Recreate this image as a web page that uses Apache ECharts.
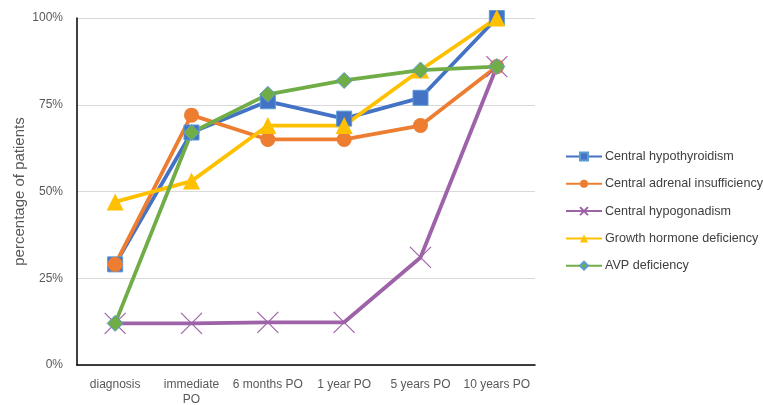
<!DOCTYPE html>
<html>
<head>
<meta charset="utf-8">
<script src="https://cdn.jsdelivr.net/npm/echarts@6/dist/echarts.min.js"></script>
<style>
  html, body { margin: 0; padding: 0; background: #fff; }
  #chart { width: 763px; height: 405px; }
</style>
</head>
<body>
<div id="chart"></div>
<script>
// Time points after surgery
const categories = ['diagnosis', 'immediate\nPO', '6 months PO', '1 year PO', '5 years PO', '10 years PO'];

// Percentage of patients with each deficiency
const hypothyroidism = [29, 67, 76, 71, 77, 100];
const adrenal = [29, 72, 65, 65, 69, 86];
const hypogonadism = [12, 12, 12.3, 12.3, 31, 86];
const growthHormone = [47, 53, 69, 69, 85, 100];
const avp = [12, 67, 78, 82, 85, 86];

const yTicks = [0, 25, 50, 75, 100];

const crossPath = 'path://M0,0L10,10M10,0L0,10';

function lineSeries(name, data, color, symbol, size, extraItem) {
  return {
    name: name,
    type: 'line',
    data: data,
    symbol: symbol,
    symbolSize: size,
    lineStyle: { color: color, width: 3.8 },
    itemStyle: Object.assign({ color: color }, extraItem || {}),
    emphasis: { disabled: true },
    animation: false
  };
}

const chart = echarts.init(document.getElementById('chart'));
chart.setOption({
  backgroundColor: '#fff',
  textStyle: { fontFamily: 'Liberation Sans, Arial, sans-serif' },
  grid: { left: 77, right: 228, top: 18, bottom: 40, containLabel: false, outerBoundsMode: 'none' },
  xAxis: {
    type: 'category',
    data: categories,
    boundaryGap: true,
    axisLine: { lineStyle: { color: '#000', width: 1.5 } },
    axisTick: { show: false },
    axisLabel: { color: '#595959', fontSize: 12, margin: 12, interval: 0, lineHeight: 15 }
  },
  yAxis: {
    type: 'value',
    min: 0,
    max: 100,
    interval: 25,
    name: 'percentage of patients',
    nameLocation: 'middle',
    nameGap: 50,
    nameMoveOverlap: false,
    nameTextStyle: { color: '#595959', fontSize: 15 },
    axisLine: { show: true, lineStyle: { color: '#000', width: 1.5 } },
    axisTick: { show: false },
    splitLine: { lineStyle: { color: '#d9d9d9', width: 1 } },
    axisLabel: {
      color: '#595959', fontSize: 12, margin: 14,
      formatter: function (v) { return yTicks.indexOf(v) >= 0 ? v + '%' : ''; }
    }
  },
  legend: {
    orient: 'vertical',
    left: 560,
    top: 145,
    itemWidth: 36,
    itemHeight: 10,
    itemGap: 14.3,
    textStyle: { color: '#404040', fontSize: 12.6, padding: [0, 0, 0, -2] },
    data: ['Central hypothyroidism', 'Central adrenal insufficiency', 'Central hypogonadism', 'Growth hormone deficiency', 'AVP deficiency']
  },
  series: [
    lineSeries('Central hypothyroidism', hypothyroidism, '#4472C4', 'rect', 15, { borderColor: '#5B9BD5', borderWidth: 1 }),
    lineSeries('Central adrenal insufficiency', adrenal, '#ED7D31', 'circle', 15),
    lineSeries('Central hypogonadism', hypogonadism, '#9E62A8', crossPath, 21, { borderColor: '#9E62A8', borderWidth: 1.2 }),
    lineSeries('Growth hormone deficiency', growthHormone, '#FFC000', 'triangle', 17),
    lineSeries('AVP deficiency', avp, '#70AD47', 'diamond', 16, { borderColor: '#5B9BD5', borderWidth: 1 })
  ]
});
</script>
</body>
</html>
